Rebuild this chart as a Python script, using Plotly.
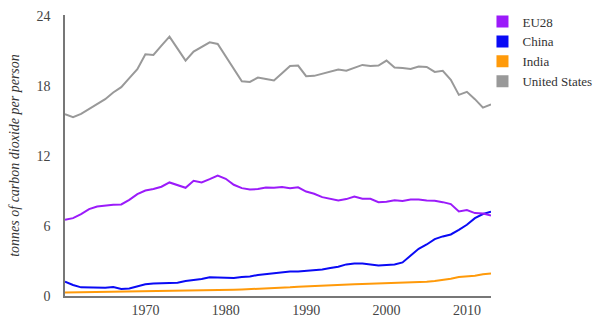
import plotly.graph_objects as go

years = list(range(1960, 2014))

eu28 = [6.54, 6.68, 7.03, 7.45, 7.68, 7.77, 7.82, 7.85, 8.25, 8.74,
        9.05, 9.17, 9.37, 9.74, 9.54, 9.28, 9.88, 9.74, 10.02, 10.33,
        10.05, 9.54, 9.25, 9.14, 9.17, 9.31, 9.28, 9.34, 9.25, 9.32,
        8.96, 8.77, 8.48, 8.31, 8.19, 8.31, 8.54, 8.34, 8.34, 8.05,
        8.08, 8.22, 8.14, 8.28, 8.28, 8.19, 8.17, 8.05, 7.88, 7.25,
        7.37, 7.11, 7.08, 6.91]

china = [1.23, 0.94, 0.74, 0.71, 0.71, 0.71, 0.77, 0.60, 0.65, 0.82,
         1.00, 1.08, 1.11, 1.11, 1.14, 1.28, 1.34, 1.45, 1.60, 1.60,
         1.57, 1.54, 1.63, 1.68, 1.80, 1.88, 1.97, 2.05, 2.11, 2.11,
         2.16, 2.23, 2.28, 2.40, 2.51, 2.71, 2.79, 2.79, 2.68, 2.62,
         2.66, 2.71, 2.88, 3.45, 4.05, 4.42, 4.88, 5.11, 5.28, 5.68,
         6.11, 6.68, 7.03, 7.22]

india = [0.30, 0.31, 0.32, 0.33, 0.33, 0.34, 0.35, 0.35, 0.36, 0.37,
         0.39, 0.40, 0.41, 0.41, 0.42, 0.44, 0.46, 0.47, 0.49, 0.50,
         0.52, 0.54, 0.56, 0.58, 0.61, 0.64, 0.67, 0.70, 0.74, 0.79,
         0.83, 0.86, 0.89, 0.91, 0.94, 0.97, 1.01, 1.03, 1.05, 1.09,
         1.11, 1.12, 1.13, 1.15, 1.19, 1.23, 1.29, 1.36, 1.48, 1.62,
         1.66, 1.73, 1.86, 1.93]

united_states = [15.60, 15.34, 15.62, 16.05, 16.48, 16.88, 17.45, 17.91, 18.68, 19.45,
                 20.74, 20.68, 21.48, 22.25, 21.22, 20.19, 20.96, 21.34, 21.76, 21.62,
                 20.59, 19.54, 18.42, 18.36, 18.73, 18.62, 18.48, 19.11, 19.72, 19.76,
                 18.85, 18.88, 19.05, 19.28, 19.42, 19.33, 19.59, 19.82, 19.73, 19.76,
                 20.19, 19.59, 19.56, 19.48, 19.68, 19.65, 19.22, 19.31, 18.54, 17.25,
                 17.51, 16.88, 16.16, 16.42]

series = [
    ("EU28", eu28, "#9B1BFA"),
    ("China", china, "#0A0AF5"),
    ("India", india, "#FF9A0A"),
    ("United States", united_states, "#999999"),
]

y_ticks = [0, 6, 12, 18, 24]
x_ticks = [1970, 1980, 1990, 2000, 2010]

font_family = "Liberation Serif"

fig = go.Figure()

# Lines drawn back to front so the grey line sits under the others
for name, values, color in reversed(series):
    fig.add_trace(go.Scatter(
        x=years, y=values, mode="lines", name=name,
        line=dict(color=color, width=2),
        showlegend=False, hoverinfo="x+y+name",
    ))

# Square swatches for the legend
for name, values, color in series:
    fig.add_trace(go.Scatter(
        x=[None], y=[None], mode="markers", name=name,
        marker=dict(symbol="square", size=12, color=color),
        showlegend=True,
    ))

fig.update_layout(
    width=600, height=329,
    margin=dict(l=65, r=109, t=15, b=33, autoexpand=False),
    paper_bgcolor="white", plot_bgcolor="white",
    font=dict(family=font_family, size=14, color="#444444"),
    showlegend=True,
    legend=dict(
        x=0.98, y=1.03, xanchor="left", yanchor="top",
        font=dict(family=font_family, size=13, color="#333333"),
        tracegroupgap=0, itemwidth=30,
        bgcolor="rgba(0,0,0,0)",
    ),
    xaxis=dict(
        range=[1960, 2013], tickvals=x_ticks, ticktext=[str(v) for v in x_ticks],
        showgrid=False, zeroline=False,
        showline=True, linecolor="#777777", linewidth=1.5,
        ticks="", ticklen=0,
        tickfont=dict(family=font_family, size=14, color="#444444"),
    ),
    yaxis=dict(
        range=[0, 24.1], tickvals=y_ticks, ticktext=[str(v) for v in y_ticks],
        showgrid=False, zeroline=False,
        showline=True, linecolor="#777777", linewidth=1.5,
        ticks="outside", ticklen=10, tickcolor="rgba(0,0,0,0)",
        tickfont=dict(family=font_family, size=14, color="#444444"),
        title=dict(
            text="<i>tonnes of carbon dioxide per person</i>",
            font=dict(family=font_family, size=14, color="#333333"),
            standoff=14,
        ),
    ),
)

fig.write_html("out.html")
